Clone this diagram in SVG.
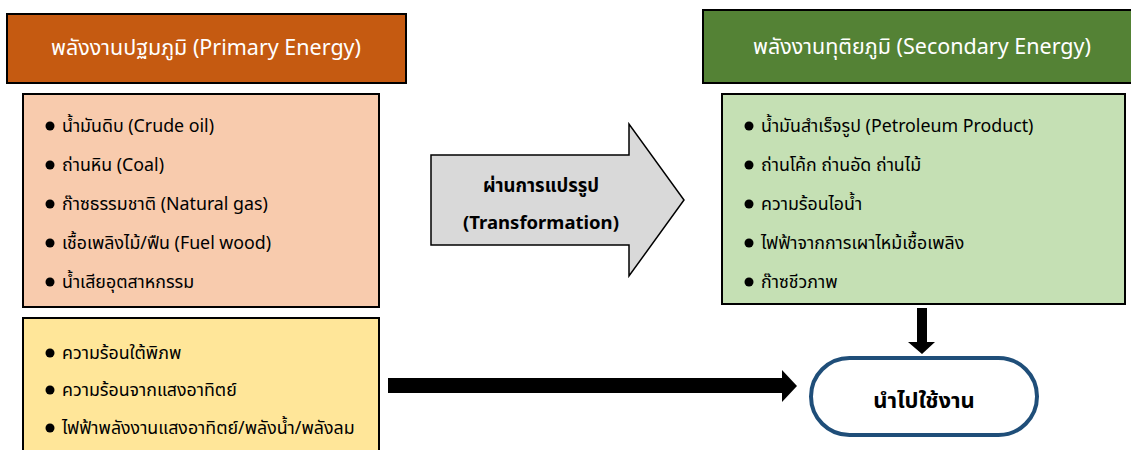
<svg xmlns="http://www.w3.org/2000/svg" width="1131" height="450" viewBox="0 0 1131 450">
  <style>
    text { font-family: "Noto Sans", "Noto Sans Thai", "Tahoma", sans-serif; }
    .hdr { font-size: 21.5px; fill: #ffffff; text-anchor: middle; }
    .item { font-size: 17.8px; fill: #000000; }
    .box { stroke: #000000; stroke-width: 2; }
    .bullet { fill: #000000; }
    .mid { font-size: 18.5px; font-weight: bold; fill: #000000; text-anchor: middle; }
  </style>

  <!-- Primary energy header -->
  <g id="primary-header">
    <rect x="7" y="14" width="399" height="69" fill="#c55a11" class="box"/>
    <text x="206" y="55" class="hdr">พลังงานปฐมภูมิ (Primary Energy)</text>
  </g>

  <!-- Primary energy: fossil and biomass sources -->
  <g id="primary-list">
    <rect x="23" y="94" width="356" height="213" fill="#f8cbad" class="box"/>
    <circle cx="50" cy="126" r="4.5" class="bullet"/>
    <text x="62" y="132" class="item">น้ำมันดิบ (Crude oil)</text>
    <circle cx="50" cy="165" r="4.5" class="bullet"/>
    <text x="62" y="171" class="item">ถ่านหิน (Coal)</text>
    <circle cx="50" cy="204" r="4.5" class="bullet"/>
    <text x="62" y="210" class="item">ก๊าซธรรมชาติ (Natural gas)</text>
    <circle cx="50" cy="243" r="4.5" class="bullet"/>
    <text x="62" y="249" class="item">เชื้อเพลิงไม้/ฟืน (Fuel wood)</text>
    <circle cx="50" cy="282" r="4.5" class="bullet"/>
    <text x="62" y="288" class="item">น้ำเสียอุตสาหกรรม</text>
  </g>

  <!-- Primary energy: renewable sources used directly -->
  <g id="renewable-list">
    <rect x="23" y="318" width="356" height="140" fill="#ffe699" class="box"/>
    <circle cx="50" cy="353" r="4.5" class="bullet"/>
    <text x="62" y="359" class="item">ความร้อนใต้พิภพ</text>
    <circle cx="50" cy="390" r="4.5" class="bullet"/>
    <text x="62" y="396" class="item">ความร้อนจากแสงอาทิตย์</text>
    <circle cx="50" cy="428" r="4.5" class="bullet"/>
    <text x="62" y="434" class="item">ไฟฟ้าพลังงานแสงอาทิตย์/พลังน้ำ/พลังลม</text>
  </g>

  <!-- Transformation block arrow -->
  <g id="transformation">
    <path d="M431,155 H629 V124 L684,200 L629,276 V245 H431 Z" fill="#d9d9d9" stroke="#000000" stroke-width="1.5"/>
    <text x="541" y="192" class="mid">ผ่านการแปรรูป</text>
    <text x="541" y="229" class="mid">(Transformation)</text>
  </g>

  <!-- Secondary energy header -->
  <g id="secondary-header">
    <rect x="703" y="10" width="440" height="73" fill="#548235" class="box"/>
    <text x="922" y="54" class="hdr">พลังงานทุติยภูมิ (Secondary Energy)</text>
  </g>

  <!-- Secondary energy products -->
  <g id="secondary-list">
    <rect x="722" y="94" width="403" height="210" fill="#c5e0b4" class="box"/>
    <circle cx="749" cy="126" r="4.5" class="bullet"/>
    <text x="761" y="132" class="item">น้ำมันสำเร็จรูป (Petroleum Product)</text>
    <circle cx="749" cy="165" r="4.5" class="bullet"/>
    <text x="761" y="171" class="item">ถ่านโค้ก ถ่านอัด ถ่านไม้</text>
    <circle cx="749" cy="204" r="4.5" class="bullet"/>
    <text x="761" y="210" class="item">ความร้อนไอน้ำ</text>
    <circle cx="749" cy="243" r="4.5" class="bullet"/>
    <text x="761" y="249" class="item">ไฟฟ้าจากการเผาไหม้เชื้อเพลิง</text>
    <circle cx="749" cy="282" r="4.5" class="bullet"/>
    <text x="761" y="288" class="item">ก๊าซชีวภาพ</text>
  </g>

  <!-- End use -->
  <g id="end-use">
    <rect x="811" y="358" width="226" height="77" rx="38.5" ry="38.5" fill="#ffffff" stroke="#1f4e79" stroke-width="4"/>
    <text x="924" y="408" font-size="22" font-weight="bold" text-anchor="middle" fill="#000000">นำไปใช้งาน</text>
  </g>

  <!-- Connectors -->
  <g id="connectors" fill="#000000">
    <path d="M917,308 H927 V342 H935 L922,354 L908,342 H917 Z"/>
    <path d="M388,378 H782 V370 L797,386 L782,402 V393 H388 Z"/>
  </g>
</svg>
